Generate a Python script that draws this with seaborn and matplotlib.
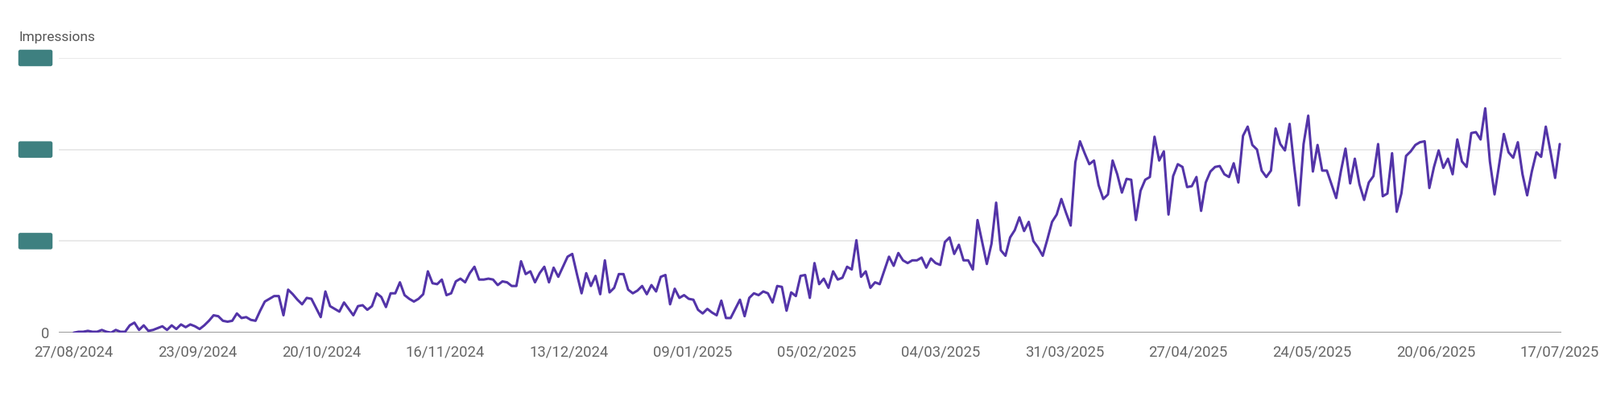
import matplotlib
matplotlib.use("Agg")
import matplotlib.pyplot as plt
import matplotlib.dates as mdates
import numpy as np
import pandas as pd
import seaborn as sns

# daily impressions, in units of one y gridline step (labels are redacted)
early = [0.0, 0.01, 0.01, 0.02, 0.01, 0.01, 0.03, 0.01, 0.0, 0.03, 0.01, 0.01,
         0.08, 0.11, 0.03, 0.08, 0.02, 0.03, 0.05, 0.07, 0.03, 0.08, 0.04, 0.09,
         0.06, 0.09, 0.07, 0.04, 0.08, 0.13, 0.19, 0.18, 0.13, 0.12, 0.13, 0.21,
         0.16, 0.17, 0.14, 0.13, 0.24, 0.34, 0.37, 0.40, 0.40, 0.19, 0.47, 0.42,
         0.36, 0.31, 0.38, 0.37, 0.27, 0.17, 0.45, 0.29, 0.26, 0.23, 0.33, 0.26,
         0.19, 0.29, 0.30, 0.25, 0.29, 0.43, 0.39, 0.28, 0.43, 0.43, 0.55, 0.41,
         0.37, 0.34, 0.37, 0.42, 0.67, 0.54, 0.53, 0.58, 0.41]
winter = [0.43, 0.56, 0.59, 0.55, 0.65, 0.72, 0.58, 0.58, 0.59, 0.58,
          0.52, 0.56, 0.55, 0.51, 0.51, 0.78, 0.64, 0.67, 0.55, 0.65,
          0.72, 0.55, 0.71, 0.61, 0.72, 0.83, 0.86, 0.64, 0.43, 0.65,
          0.51, 0.62, 0.42, 0.79, 0.44, 0.49, 0.64, 0.64, 0.47, 0.43,
          0.46, 0.51, 0.42, 0.52, 0.45, 0.61, 0.63, 0.31, 0.48, 0.38,
          0.41, 0.37, 0.36, 0.25, 0.21, 0.26, 0.22, 0.19, 0.35, 0.16,
          0.16, 0.26, 0.36, 0.18, 0.38, 0.43, 0.41, 0.45, 0.43, 0.33,
          0.51, 0.50, 0.24, 0.44, 0.40, 0.62, 0.63, 0.38, 0.76, 0.53,
          0.59, 0.49, 0.67, 0.58, 0.60, 0.72]
spring = [0.69, 1.01, 0.61, 0.67, 0.49, 0.55, 0.53, 0.68, 0.83, 0.73,
          0.87, 0.79, 0.76, 0.79, 0.79, 0.82, 0.71, 0.81, 0.76, 0.74,
          0.99, 1.04, 0.86, 0.96, 0.79, 0.79, 0.69, 1.23, 0.99, 0.75,
          0.97, 1.42, 0.90, 0.84, 1.04, 1.12, 1.26, 1.11, 1.21, 1.00,
          0.93, 0.84, 1.02, 1.21, 1.29, 1.46, 1.31, 1.17, 1.86, 2.09,
          1.96, 1.84, 1.88, 1.61, 1.46, 1.51, 1.88, 1.73, 1.53, 1.68,
          1.67, 1.23, 1.55, 1.67, 1.70, 2.14, 1.88, 1.98, 1.29, 1.71,
          1.84, 1.81, 1.59, 1.60, 1.70, 1.33]
summer = [1.64, 1.76, 1.81, 1.82, 1.73, 1.70, 1.85, 1.64, 2.15, 2.25,
          2.05, 2.00, 1.77, 1.70, 1.77, 2.23, 2.06, 1.99, 2.28, 1.81,
          1.39, 2.06, 2.37, 1.76, 2.05, 1.77, 1.77, 1.62, 1.47, 1.76,
          2.01, 1.63, 1.90, 1.62, 1.45, 1.64, 1.71, 2.06, 1.49, 1.52,
          1.96, 1.32, 1.52, 1.93, 1.98, 2.05, 2.08, 2.09, 1.58, 1.81,
          1.99, 1.80, 1.90, 1.73, 2.11, 1.87, 1.81, 2.18, 2.19, 2.11,
          2.45, 1.87, 1.51, 1.84, 2.17, 1.97, 1.91, 2.08, 1.73, 1.50,
          1.76, 1.97, 1.92, 2.25, 1.98, 1.69, 2.06]

start_date = "2024-08-27"
end_date = "2025-07-17"
tick_dates = ["27/08/2024", "23/09/2024", "20/10/2024", "16/11/2024",
              "13/12/2024", "09/01/2025", "05/02/2025", "04/03/2025",
              "31/03/2025", "27/04/2025", "24/05/2025", "20/06/2025",
              "17/07/2025"]
y_ticks = [0, 1, 2, 3]

values = early + winter + spring + summer
df = pd.DataFrame({
    "date": pd.date_range(start_date, end_date, periods=len(values)),
    "impressions": values,
})

sns.set_theme(style="white", font="Roboto")
fig = plt.figure(figsize=(19.87, 4.93), dpi=100)
ax = fig.add_axes([0.0367, 0.162, 0.9393, 0.692])

sns.lineplot(data=df, x="date", y="impressions", color="#5334a8",
             linewidth=2.2, ax=ax)

ticks = pd.to_datetime(tick_dates, format="%d/%m/%Y")
ax.set_xticks(ticks)
ax.xaxis.set_major_formatter(mdates.DateFormatter("%d/%m/%Y"))
ax.set_xlim(ticks[0] - pd.Timedelta(days=3.3), ticks[-1] + pd.Timedelta(days=0.4))
ax.set_ylim(0, 3)
ax.set_yticks(y_ticks)
ax.set_yticklabels(["0", "", "", ""])
ax.tick_params(axis="both", length=0, labelsize=13.3, labelcolor="#666666")
ax.tick_params(axis="x", pad=11)
ax.tick_params(axis="y", pad=8)
ax.set_xlabel("")
ax.set_ylabel("")

for y in y_ticks[1:]:
    ax.axhline(y, color="#e8e8e8", linewidth=1.3, zorder=0)
ax.axhline(0, color="#8e8e8e", linewidth=2, zorder=1)

# redacted y labels drawn as teal blocks
for y in y_ticks[1:]:
    ax.text(-0.0155, y, "\u2007" * 5, transform=ax.get_yaxis_transform(),
            ha="center", va="center", fontsize=9,
            bbox=dict(boxstyle="round,pad=0.3,rounding_size=0.2",
                      fc="#3e8080", ec="none"))

for s in ax.spines.values():
    s.set_visible(False)

fig.text(0.012, 0.905, "Impressions", fontsize=12.5, color="#555555",
         ha="left", va="center")

fig.savefig("out.png", dpi=100)
